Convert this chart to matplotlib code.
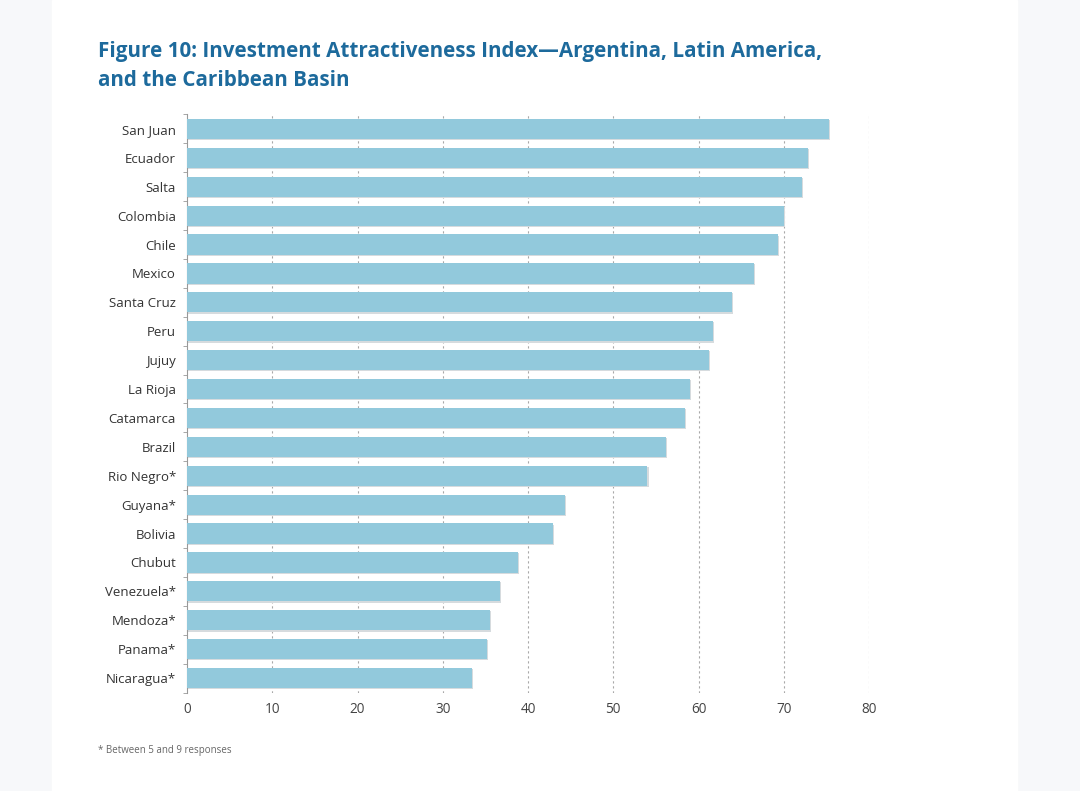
import matplotlib.pyplot as plt
from matplotlib.patches import Rectangle

# data, top to bottom
paises = ["San Juan", "Ecuador", "Salta", "Colombia", "Chile", "Mexico",
          "Santa Cruz", "Peru", "Jujuy", "La Rioja", "Catamarca", "Brazil",
          "Rio Negro*", "Guyana*", "Bolivia", "Chubut", "Venezuela*",
          "Mendoza*", "Panama*", "Nicaragua*"]
indice = [75.3, 72.8, 72.1, 70.0, 69.3, 66.5, 63.9, 61.7, 61.2, 59.0,
          58.4, 56.2, 54.0, 44.3, 42.9, 38.8, 36.7, 35.5, 35.2, 33.4]
xticks = [0, 10, 20, 30, 40, 50, 60, 70, 80]

plt.rcParams['font.family'] = ['Open Sans', 'DejaVu Sans']

fig = plt.figure(figsize=(10.8, 7.91), dpi=100)
fig.patch.set_facecolor('#f7f8fa')
# white page
fig.patches.append(Rectangle((52 / 1080, 0), (1017 - 52) / 1080, 1,
                             transform=fig.transFigure, color='white', zorder=-10))

ax = fig.add_axes([187 / 1080, 1 - 692.5 / 791, (869 - 187) / 1080, (692.5 - 114.5) / 791])
ax.set_facecolor('none')
ax.set_zorder(5)

pos = list(range(len(paises)))
# slight shadow under bars
ax.barh([p + 0.04 for p in pos], indice, left=0.15, height=0.7, color='#d6dbde', zorder=2)
ax.barh(pos, indice, height=0.7, color='#92c9dc', zorder=3)

ax.set_xlim(0, 80)
ax.set_ylim(len(paises) - 0.5, -0.5)
ax.set_xticks(xticks)
ax.set_xticklabels([str(t) for t in xticks], fontsize=9.8, color='#444444')
ax.set_yticks(pos)
ax.set_yticklabels(paises, fontsize=9.5, color='#333333')
ax.tick_params(axis='y', length=0, pad=8)
ax.tick_params(axis='x', length=0, pad=7)
ax.set_yticks([p + 0.5 for p in range(-1, len(paises))], minor=True)
ax.tick_params(axis='y', which='minor', length=3, color='#999999')

for t in xticks[1:]:
    ax.axvline(t, color='#a8a8a8', lw=0.8, ls=(0, (2, 2.5)), zorder=1)

for s in ['top', 'right', 'bottom']:
    ax.spines[s].set_visible(False)
ax.spines['left'].set_color('#999999')
ax.spines['left'].set_linewidth(0.8)

fig.text(98 / 1080, 1 - 52 / 791, "Figure 10: Investment Attractiveness Index\u2014Argentina, Latin America,",
         fontsize=14.9, fontweight='bold', color='#1d6a9c', va='center')
fig.text(98 / 1080, 1 - 80 / 791, "and the Caribbean Basin",
         fontsize=14.9, fontweight='bold', color='#1d6a9c', va='center')
fig.text(98 / 1080, 1 - 750 / 791, "* Between 5 and 9 responses",
         fontsize=7, color='#666666', va='center')

fig.savefig('out.png', dpi=100, facecolor=fig.get_facecolor())
